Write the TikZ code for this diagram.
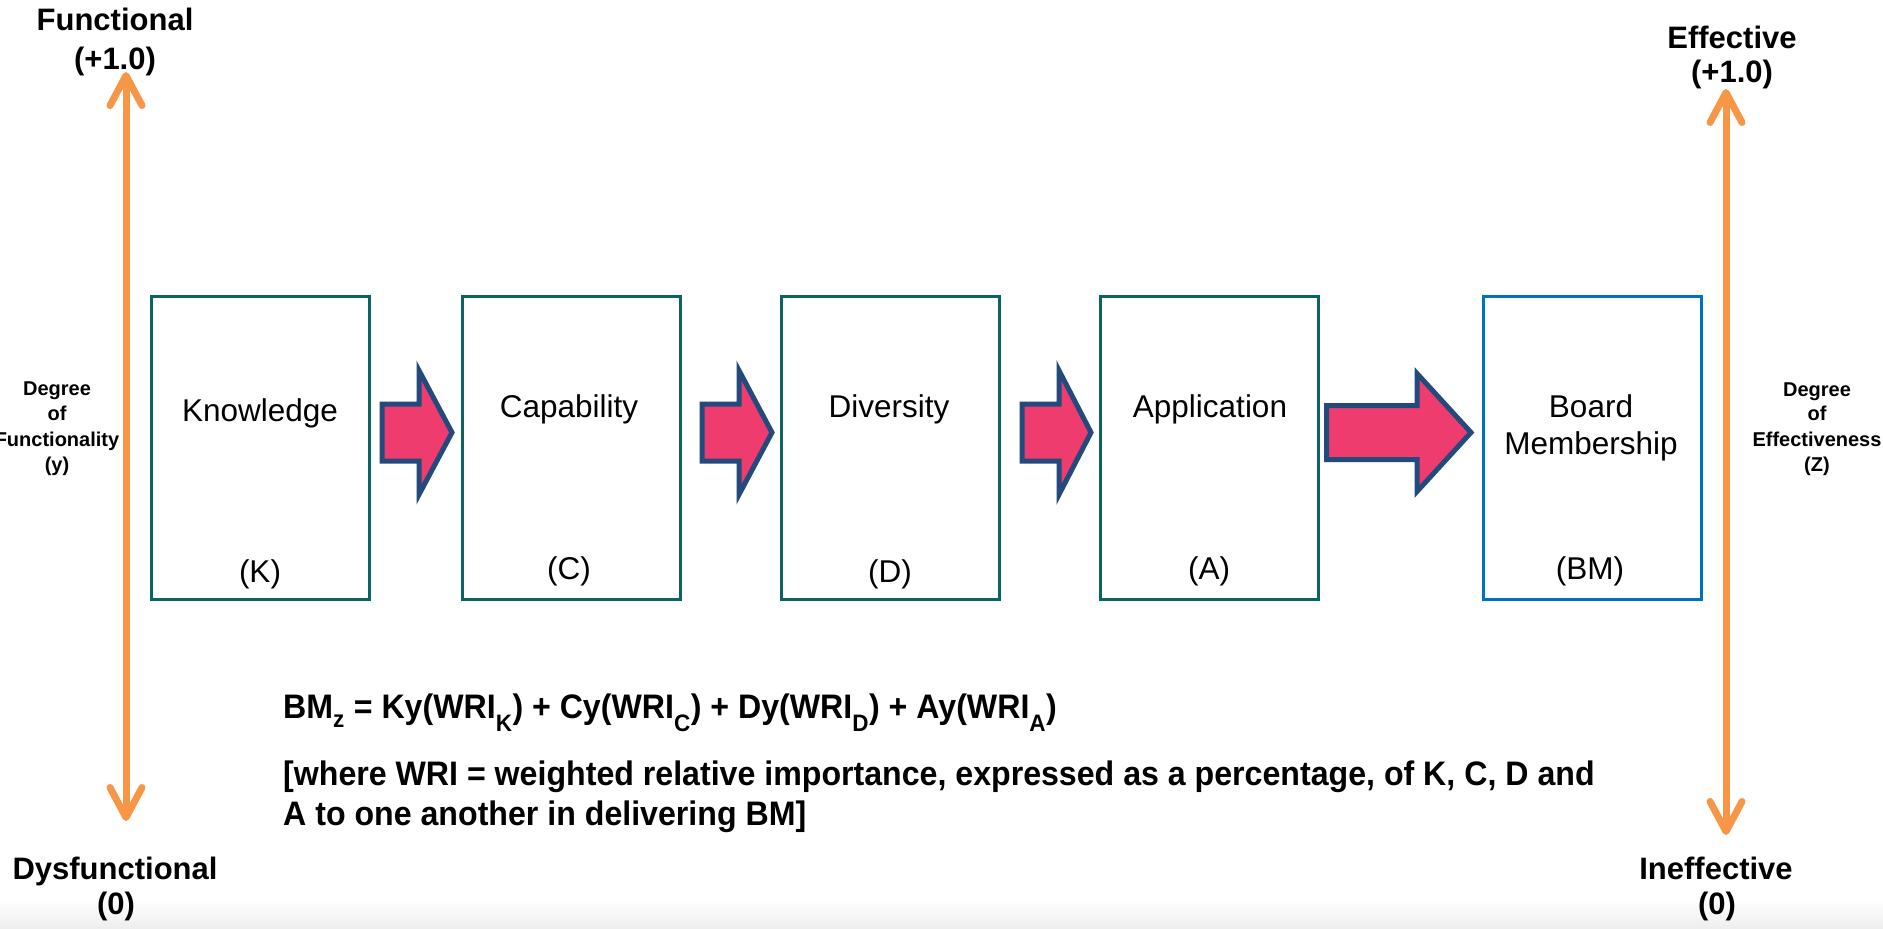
\documentclass[tikz,border=0pt]{standalone}
\usepackage{fontspec}
\setmainfont{Liberation Sans}
\newfontfamily\condfont{Liberation Sans}[FakeStretch=0.945]
\usetikzlibrary{arrows.meta}

\definecolor{scaleorange}{HTML}{F79646}
\definecolor{stageteal}{HTML}{0A6562}
\definecolor{stageblue}{HTML}{0070C0}
\definecolor{flowpink}{HTML}{EE3C6F}
\definecolor{flowedge}{HTML}{234A7C}

\tikzset{
  heading/.style={font=\fontsize{31}{37}\selectfont\bfseries, anchor=base, inner sep=0},
  axislabel/.style={font=\fontsize{20}{25}\selectfont\bfseries, anchor=base, inner sep=0},
  stagebox/.style={draw=stageteal, line width=3pt, minimum width=218pt, minimum height=303pt, inner sep=0},
  boardbox/.style={stagebox, draw=stageblue},
  stagetext/.style={font=\fontsize{31.5}{37}\selectfont, anchor=base, inner sep=0},
  scalearrow/.style={draw=scaleorange, line width=7pt, line cap=round,
    {Straight Barb[length=30pt,width=32pt,round]}-{Straight Barb[length=30pt,width=32pt,round]}},
  flowarrow/.style={fill=flowpink, draw=flowedge, line width=5pt, line join=miter},
  formula/.style={font=\condfont\fontsize{34}{40}\selectfont\bfseries, anchor=base west, inner sep=0},
}

% lowered subscript for the formula
\newcommand\lowsub[1]{\raisebox{-0.3ex}{\textsubscript{#1}}}

% block arrow: tail x, head start x, tip x, centre y, shaft half height, head half height
\newcommand\blockarrow[6]{%
  \filldraw[flowarrow] (#1,#4-#5) -- (#2,#4-#5) -- (#2,#4-#6) -- (#3,#4)
    -- (#2,#4+#6) -- (#2,#4+#5) -- (#1,#4+#5) -- cycle;}

\begin{document}
\begin{tikzpicture}[x=1pt,y=-1pt]
\useasboundingbox (0,0) rectangle (1883,929);
\shade[top color=white, bottom color=black!7] (0,900) rectangle (1883,929);

% functionality scale
\node[heading] (fun) at (115,30) {Functional};
\node[heading] (funv) at (115,69) {(+1.0)};
\node[heading] (dys) at (115,879) {Dysfunctional};
\node[heading] (dysv) at (116,914) {(0)};
\coordinate (ftop) at (126,72);
\coordinate (fbot) at (126,821);
\draw[scalearrow] (fbot) -- (ftop);
\node[axislabel] (dfa) at (57,395) {Degree};
\node[axislabel] (dfb) at (57,420) {of};
\node[axislabel] (dfc) at (57,446) {Functionality};
\node[axislabel] (dfd) at (57,471) {(y)};

% effectiveness scale
\node[heading] (eff) at (1732,48) {Effective};
\node[heading] (effv) at (1732,82) {(+1.0)};
\node[heading] (ineff) at (1716,879) {Ineffective};
\node[heading] (ineffv) at (1717,914) {(0)};
\coordinate (etop) at (1726,89);
\coordinate (ebot) at (1726,835);
\draw[scalearrow] (ebot) -- (etop);
\node[axislabel] (dea) at (1817,396) {Degree};
\node[axislabel] (deb) at (1817,420) {of};
\node[axislabel] (dec) at (1817,446) {Effectiveness};
\node[axislabel] (ded) at (1817,471) {(Z)};

% stages
\node[stagebox] (K) at (260.5,448) {};
\node[stagebox] (C) at (571.5,448) {};
\node[stagebox] (D) at (890.5,448) {};
\node[stagebox] (A) at (1209.5,448) {};
\node[boardbox] (BM) at (1592,448) {};

\node[stagetext] (Kt) at (260,421) {Knowledge};
\node[stagetext] (Kl) at (260,582) {(K)};
\node[stagetext] (Ct) at (569,417) {Capability};
\node[stagetext] (Cl) at (569,579) {(C)};
\node[stagetext] (Dt) at (889,417) {Diversity};
\node[stagetext] (Dl) at (890,582) {(D)};
\node[stagetext] (At) at (1210,417) {Application};
\node[stagetext] (Al) at (1209,579) {(A)};
\node[stagetext] (BMt) at (1591,417) {Board};
\node[stagetext] (BMu) at (1591,454) {Membership};
\node[stagetext] (BMl) at (1590,579) {(BM)};

% flow between stages
\blockarrow{382}{419}{452}{432.5}{28.5}{62}
\blockarrow{702}{739}{772}{432.5}{28.5}{62}
\blockarrow{1022}{1059}{1091}{432.5}{28.5}{62}
\blockarrow{1326.5}{1417}{1471}{432.5}{27}{59}

% formula
\node[formula] (eq) at (283,718) {BM\lowsub{z} = Ky(WRI\lowsub{K}) + Cy(WRI\lowsub{C}) + Dy(WRI\lowsub{D}) + Ay(WRI\lowsub{A})};
\node[formula] (wa) at (283,785) {[where WRI = weighted relative importance, expressed as a percentage, of K, C, D and};
\node[formula] (wb) at (283,825) {A to one another in delivering BM]};
\end{tikzpicture}
\end{document}
